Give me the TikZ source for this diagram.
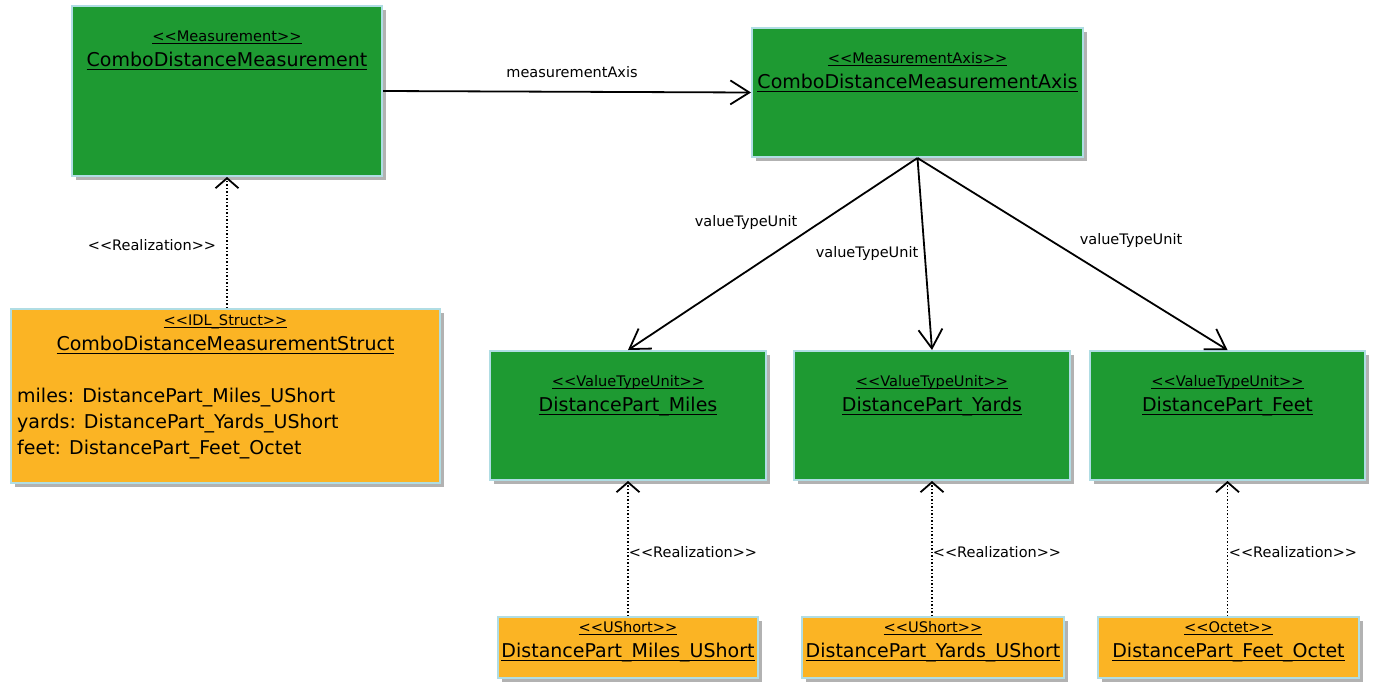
\documentclass[tikz,border=0pt]{standalone}
\usepackage{fontspec}
\setmainfont[Ligatures=TeXOff]{DejaVu Sans}
\usetikzlibrary{arrows.meta,shadows}
\definecolor{umlgreen}{RGB}{30,154,50}
\definecolor{umlorange}{RGB}{251,180,36}
\definecolor{umlborder}{RGB}{176,221,228}
\newcommand{\myul}[1]{\setbox0=\hbox{#1}\rlap{\rule[-0.235em]{\wd0}{0.075em}}\box0}
\tikzset{
  umlbox/.style={draw=umlborder, line width=2pt, inner sep=0pt,
    drop shadow={shadow xshift=4pt, shadow yshift=-4pt, fill=black, opacity=0.3}},
  greenbox/.style={umlbox, fill=umlgreen},
  orangebox/.style={umlbox, fill=umlorange},
  stereo/.style={anchor=base, inner sep=0pt, font=\fontsize{14.6}{16}\selectfont},
  title/.style={anchor=base, inner sep=0pt, font=\fontsize{19}{22}\selectfont},
  attr/.style={anchor=base west, inner sep=0pt, font=\fontsize{19}{22}\selectfont},
  lbl/.style={anchor=base, inner sep=0pt, font=\fontsize{14.5}{16}\selectfont},
  navarrow/.style={line width=1.8pt, -{Straight Barb[length=19pt,width=24pt,line width=1.8pt]}},
  realarrow/.style={line width=1.5pt, dotted, -{Straight Barb[length=10pt,width=23pt,line width=1.8pt,sep=0pt]}},
}
\begin{document}
\begin{tikzpicture}[x=1pt,y=-1pt]
\useasboundingbox[fill=white] (0,0) rectangle (1390,694);
% boxes
\node[greenbox, minimum width=310pt, minimum height=170pt] (cdm) at (227,91) {};
\node[greenbox, minimum width=331pt, minimum height=129pt] (axis) at (917.5,92.5) {};
\node[orangebox, minimum width=429pt, minimum height=174pt] (struct) at (225.5,396) {};
\node[greenbox, minimum width=276pt, minimum height=129pt] (miles) at (628,415.5) {};
\node[greenbox, minimum width=276pt, minimum height=129pt] (yards) at (932,415.5) {};
\node[greenbox, minimum width=275pt, minimum height=129pt] (feet) at (1227.5,415.5) {};
\node[orangebox, minimum width=260pt, minimum height=61pt] (milesu) at (628,647.5) {};
\node[orangebox, minimum width=262pt, minimum height=61pt] (yardsu) at (933,647.5) {};
\node[orangebox, minimum width=261pt, minimum height=61pt] (feeto) at (1228.5,647.5) {};
% texts
\node[stereo] (cdmS) at (227,41) {\myul{<<Measurement>>}};
\node[title] (cdmT) at (227,66) {\myul{ComboDistanceMeasurement}};
\node[stereo] (axisS) at (917.5,63) {\myul{<<MeasurementAxis>>}};
\node[title] (axisT) at (917.5,88) {\myul{ComboDistanceMeasurementAxis}};
\node[stereo] (structS) at (225.5,325) {\myul{<<IDL\_Struct>>}};
\node[title] (structT) at (225.5,350) {\myul{ComboDistanceMeasurementStruct}};
\node[attr] (a1) at (17,402) {miles: DistancePart\_Miles\_UShort};
\node[attr] (a2) at (17,428) {yards: DistancePart\_Yards\_UShort};
\node[attr] (a3) at (17,454) {feet: DistancePart\_Feet\_Octet};
\node[stereo] (milesS) at (628,386) {\myul{<<ValueTypeUnit>>}};
\node[title] (milesT) at (628,411) {\myul{DistancePart\_Miles}};
\node[stereo] (yardsS) at (932,386) {\myul{<<ValueTypeUnit>>}};
\node[title] (yardsT) at (932,411) {\myul{DistancePart\_Yards}};
\node[stereo] (feetS) at (1227.5,386) {\myul{<<ValueTypeUnit>>}};
\node[title] (feetT) at (1227.5,411) {\myul{DistancePart\_Feet}};
\node[stereo] (milesuS) at (628,632) {\myul{<<UShort>>}};
\node[title] (milesuT) at (628,657) {\myul{DistancePart\_Miles\_UShort}};
\node[stereo] (yardsuS) at (933,632) {\myul{<<UShort>>}};
\node[title] (yardsuT) at (933,657) {\myul{DistancePart\_Yards\_UShort}};
\node[stereo] (feetoS) at (1228.5,632) {\myul{<<Octet>>}};
\node[title] (feetoT) at (1228.5,657) {\myul{DistancePart\_Feet\_Octet}};
% connectors
\draw[navarrow] (cdm.east) -- (axis.west);
\draw[navarrow] (axis.south) -- (miles.north);
\draw[navarrow] (axis.south) -- (yards.north);
\draw[navarrow] (axis.south) -- (feet.north);
\draw[realarrow] (cdm.south |- struct.north) -- (cdm.south);
\draw[realarrow] (milesu.north) -- (miles.south);
\draw[realarrow] (yards.south |- yardsu.north) -- (yards.south);
\draw[realarrow] (feet.south |- feeto.north) -- (feet.south);
% labels
\node[lbl] (l1) at (572,77) {measurementAxis};
\node[lbl] (l2) at (746,226) {valueTypeUnit};
\node[lbl] (l3) at (867,257) {valueTypeUnit};
\node[lbl] (l4) at (1131,244) {valueTypeUnit};
\node[lbl] (r1) at (152,250) {<<Realization>>};
\node[lbl] (r2) at (693,557) {<<Realization>>};
\node[lbl] (r3) at (997,557) {<<Realization>>};
\node[lbl] (r4) at (1293,557) {<<Realization>>};
\end{tikzpicture}
\end{document}
